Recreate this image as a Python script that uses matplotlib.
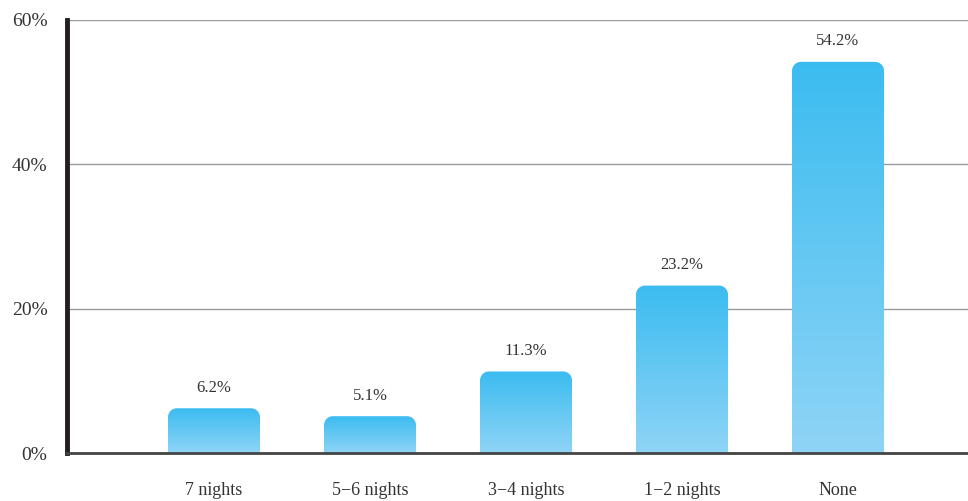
# bar chart of nights per week, gradient bars with rounded tops

import numpy as np
import matplotlib
matplotlib.use('Agg')
import matplotlib.pyplot as plt
from matplotlib.path import Path
from matplotlib.patches import PathPatch
from matplotlib.colors import LinearSegmentedColormap

categories = ['7 nights', '5\u22126 nights', '3\u22124 nights', '1\u22122 nights', 'None']
values = [6.2, 5.1, 11.3, 23.2, 54.2]
yticks = [0, 20, 40, 60]

plt.rcParams['font.family'] = ['Liberation Serif', 'DejaVu Serif']

fig = plt.figure(figsize=(9.68, 5.01), dpi=100)
W, H = 968., 501.
ax = fig.add_axes([67/W, (H-453)/H, (968-67)/W, 433/H])

xpos = np.arange(len(categories))
ax.set_xlim(-0.942, 4.833)
ax.set_ylim(0, 60)

bars = ax.bar(xpos, values, width=0.59, color='none', edgecolor='none')

grad = LinearSegmentedColormap.from_list('g', ['#8fd4f6', '#3bbcf0'])
# pixels per data unit, so the round corners look circular
pxx = (968-67) / (4.833+0.942)
pxy = 433 / 60.
r = 9.0

for b in bars:
    x0, w, h = b.get_x(), b.get_width(), b.get_height()
    rx, ry = r/pxx, min(r/pxy, h)
    pts = [(x0, 0)]
    # left top corner, from the side up to the top
    for a in np.linspace(np.pi, np.pi/2, 12):
        pts.append((x0+rx + rx*np.cos(a), h-ry + ry*np.sin(a)))
    # right top corner
    for a in np.linspace(np.pi/2, 0, 12):
        pts.append((x0+w-rx + rx*np.cos(a), h-ry + ry*np.sin(a)))
    pts.append((x0+w, 0))
    pts.append((x0, 0))
    clip = PathPatch(Path(pts), facecolor='none', edgecolor='none', transform=ax.transData)
    ax.add_patch(clip)
    img = ax.imshow(np.linspace(0, 1, 256).reshape(-1, 1), cmap=grad, origin='lower',
                    extent=[x0, x0+w, 0, h], aspect='auto', zorder=3)
    img.set_clip_path(clip)
    ax.annotate('%.1f%%' % h, (b.get_x()+w/2, h), xytext=(0, 9), textcoords='offset points',
                ha='center', va='bottom', fontsize=12, color='#333333')

ax.set_xlim(-0.942, 4.833)
ax.set_ylim(0, 60)

ax.set_yticks(yticks)
ax.set_yticklabels(['%d%%' % v for v in yticks], fontsize=14, color='#333333')
ax.set_xticks(xpos)
ax.set_xticklabels(categories, fontsize=13, color='#333333')
ax.tick_params(axis='y', length=0, pad=14)
ax.tick_params(axis='x', length=0, pad=21)

ax.yaxis.grid(True, color='#9a9a9a', linewidth=1.0)
ax.set_axisbelow(True)
for s in ['top', 'right']:
    ax.spines[s].set_visible(False)
ax.spines['left'].set_linewidth(3.5)
ax.spines['left'].set_color('#231f20')
ax.spines['bottom'].set_linewidth(2)
ax.spines['bottom'].set_color('#444444')
ax.spines['left'].set_zorder(5)
ax.spines['bottom'].set_zorder(5)

fig.savefig('out.png', dpi=100)
